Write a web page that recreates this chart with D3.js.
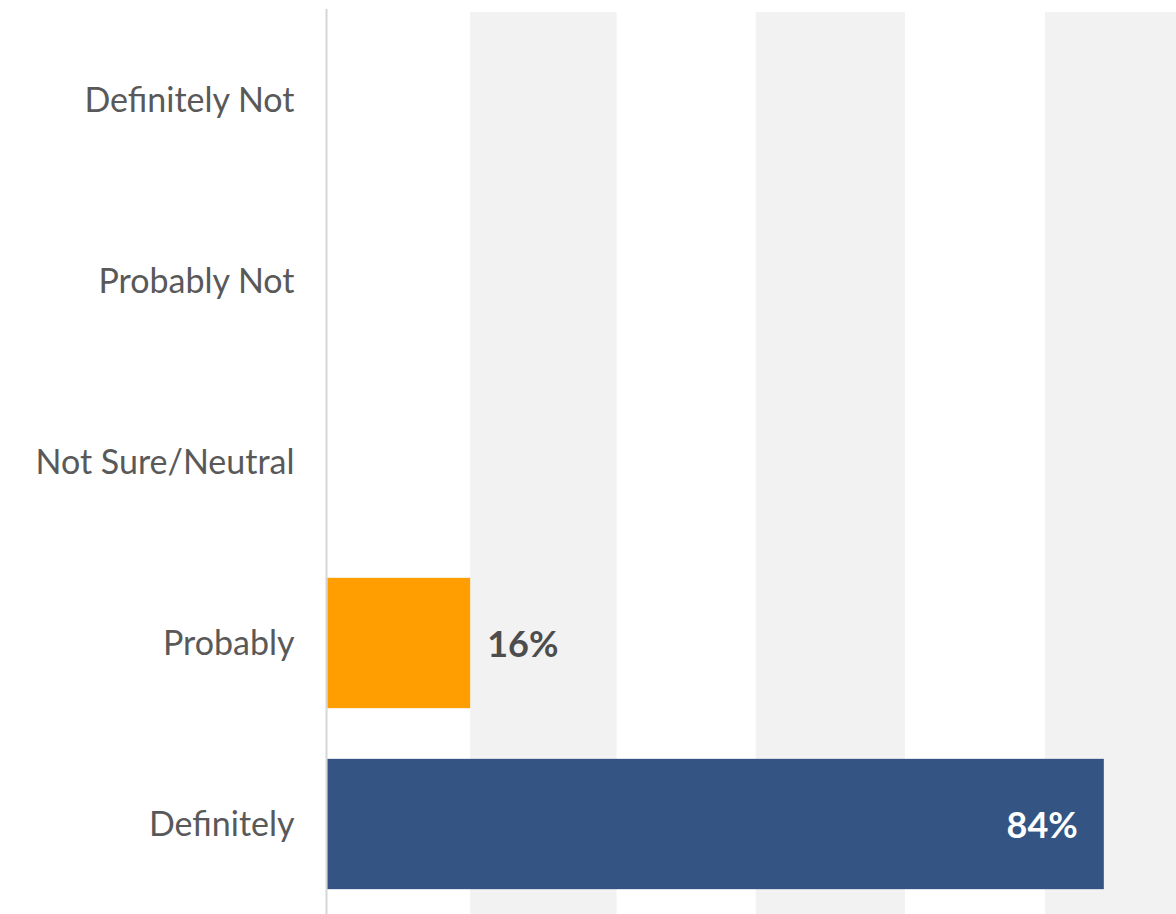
<!DOCTYPE html>
<html>
<head>
<meta charset="utf-8">
<script src="https://cdn.jsdelivr.net/npm/d3@7/dist/d3.min.js"></script>
<style>
  html, body { margin: 0; padding: 0; background: #fff; }
  svg { display: block; }
</style>
</head>
<body>
<svg id="chart" width="1176" height="914"></svg>
<script>
// Data
const categories = ["Definitely Not", "Probably Not", "Not Sure/Neutral", "Probably", "Definitely"];
const values = [0, 0, 0, 15.6, 84.4];          // percent
const barColors = ["#345583", "#345583", "#345583", "#FF9E00", "#345583"];
const gridTicks = [0, 15.6, 31.5, 46.6, 62.8, 78.0, 96.0];

const svg = d3.select("#chart");
const W = 1176, H = 914;
const x0 = 326.5;

const x = d3.scaleLinear().domain([0, 100]).range([x0, x0 + 921]);
const y = d3.scaleBand().domain(categories).range([9.5, 914.5]).paddingInner(0.28).paddingOuter(0.14);

// alternating gray bands
const bandG = svg.append("g");
for (let i = 1; i < gridTicks.length - 1; i += 2) {
  const xa = x(gridTicks[i]);
  const xb = Math.min(x(gridTicks[i + 1]), W);
  bandG.append("rect")
    .attr("x", xa).attr("y", 12)
    .attr("width", Math.max(0, xb - xa)).attr("height", H - 12)
    .attr("fill", "#F2F2F2");
}

// axis line
svg.append("line")
  .attr("x1", x0).attr("x2", x0)
  .attr("y1", 9).attr("y2", H)
  .attr("stroke", "#D6D6D6").attr("stroke-width", 2);

// bars
const data = categories.map((c, i) => ({ c, v: values[i], col: barColors[i] }));
svg.append("g").selectAll("rect").data(data.filter(d => d.v > 0)).join("rect")
  .attr("x", x(0) + 1)
  .attr("y", d => y(d.c))
  .attr("width", d => x(d.v) - x(0) - 1)
  .attr("height", y.bandwidth())
  .attr("fill", d => d.col);

// category labels
const yAxis = d3.axisLeft(y).tickSize(0).tickPadding(0);
const ag = svg.append("g").attr("transform", `translate(${x0 - 32},1)`).call(yAxis);
ag.select(".domain").remove();
ag.selectAll("text")
  .attr("font-family", "Lato, 'Open Sans', sans-serif")
  .attr("font-size", 34)
  .attr("fill", "#595959")
  .attr("text-anchor", "end");

// value labels
svg.append("g").selectAll("text").data(data.filter(d => d.v > 0)).join("text")
  .attr("x", d => d.v > 50 ? x(d.v) - 26 : x(d.v) + 17)
  .attr("y", d => y(d.c) + y.bandwidth() / 2 + 1)
  .attr("dy", "0.36em")
  .attr("text-anchor", d => d.v > 50 ? "end" : "start")
  .attr("font-family", "Lato, 'Open Sans', sans-serif")
  .attr("font-weight", "bold")
  .attr("font-size", 36)
  .attr("fill", d => d.v > 50 ? "#FFFFFF" : "#4D4D4D")
  .text(d => Math.round(d.v) + "%");
</script>
</body>
</html>
